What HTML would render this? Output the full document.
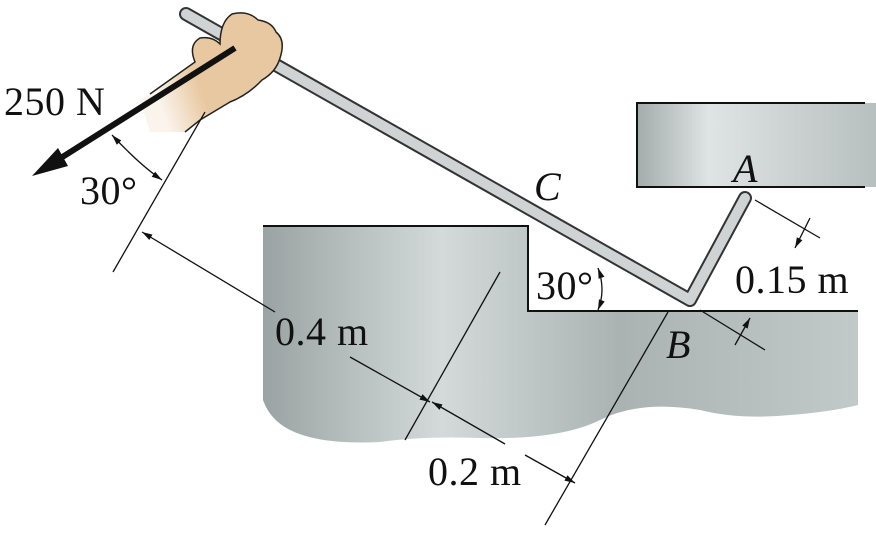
<!DOCTYPE html>
<html><head><meta charset="utf-8"><style>
html,body{margin:0;padding:0;background:#fff;width:876px;height:536px;overflow:hidden}
svg text{font-family:"Liberation Serif",serif;font-size:40px;letter-spacing:0.5px;fill:#111}
</style></head><body>
<svg width="876" height="536" viewBox="0 0 876 536">
<defs>
<linearGradient id="metal" x1="0" x2="1" y1="0" y2="0">
<stop offset="0" stop-color="#9aa3a3"/><stop offset="0.3" stop-color="#d4dada"/><stop offset="0.6" stop-color="#aab2b2"/><stop offset="1" stop-color="#c2c9c9"/></linearGradient>
<linearGradient id="metal2" x1="0" x2="1" y1="0" y2="0">
<stop offset="0" stop-color="#a3abab"/><stop offset="0.3" stop-color="#dfe4e4"/><stop offset="1" stop-color="#b8bfbf"/></linearGradient>
<linearGradient id="skin" x1="1" x2="0" y1="0" y2="0.3">
<stop offset="0.7" stop-color="#e8c8a0"/><stop offset="1" stop-color="#e8c8a0" stop-opacity="0.2"/></linearGradient>
<marker id="ah" viewBox="0 0 10 10" refX="10" refY="5" markerWidth="8" markerHeight="8" orient="auto-start-reverse"><path d="M0,2 L10,5 L0,8 z" fill="#111"/></marker>
</defs>
<g>
<rect x="637" y="103" width="239" height="84" fill="url(#metal2)"/>
<path d="M865,103 H637 V187 H865" fill="none" stroke="#111" stroke-width="2"/>
</g>
<g>
<path d="M263,226 H528 V311 H858 V405 Q830,412 790,415 Q740,420 700,410 Q640,400 600,420 Q560,440 480,438 Q420,436 380,442 Q320,445 290,430 Q270,420 263,400 Z" fill="url(#metal)"/>
<path d="M263,226 H528 V311 H858" fill="none" stroke="#111" stroke-width="2"/>
</g>
<g>
<path d="M186,14 L690,300 L745,198" fill="none" stroke="#333" stroke-width="14" stroke-linejoin="round" stroke-linecap="round"/>
<path d="M186,14 L690,300 L745,198" fill="none" stroke="#cfd3d3" stroke-width="10" stroke-linejoin="round" stroke-linecap="round"/>
</g>
<g>
<path d="M140,100 L195,62 Q188,45 200,38 Q212,36 220,44 Q220,22 232,14 Q248,10 258,20 Q272,22 276,32 Q286,40 280,58 Q276,72 262,80 Q248,95 230,102 L200,120 L185,132 L150,132 Z" fill="url(#skin)"/>
<path d="M150,94 L195,62 Q188,45 200,38 Q212,36 220,44 Q220,22 232,14 Q248,10 258,20 Q272,22 276,32 Q286,40 280,58 Q276,72 262,80 Q248,95 230,102 L200,120 L185,132" fill="none" stroke="#222" stroke-width="1.5"/>
</g>
<line x1="235" y1="48" x2="45" y2="168" stroke="#111" stroke-width="6"/>
<path d="M32,176 L58,148 L68,166 Z" fill="#111"/>
<text x="4" y="115">250 N</text>
<g stroke="#111" stroke-width="1.3" fill="none">
<line x1="113" y1="272" x2="205" y2="112"/>
<line x1="405" y1="440" x2="500" y2="272"/>
<line x1="545" y1="525" x2="668" y2="312"/>
<line x1="142" y1="232" x2="275" y2="312" marker-start="url(#ah)"/>
<line x1="350" y1="357" x2="430" y2="402" marker-end="url(#ah)"/>
<line x1="432" y1="402" x2="505" y2="444" marker-start="url(#ah)"/>
<line x1="525" y1="455" x2="575" y2="483" marker-end="url(#ah)"/>
<line x1="755" y1="200" x2="820" y2="238"/>
<line x1="700" y1="310" x2="765" y2="350"/>
<line x1="810" y1="218" x2="795" y2="248" marker-end="url(#ah)"/>
<line x1="735" y1="345" x2="750" y2="318" marker-end="url(#ah)"/>
<path d="M112,135 Q140,165 162,180" marker-start="url(#ah)" marker-end="url(#ah)"/>
<path d="M598,268 Q606,290 598,310" marker-start="url(#ah)" marker-end="url(#ah)"/>
</g>
<text x="80" y="204">30°</text>
<text x="536" y="299">30°</text>
<text x="275" y="345">0.4 m</text>
<text x="428" y="485">0.2 m</text>
<text x="735" y="293">0.15 m</text>
<text x="534" y="200" font-style="italic">C</text>
<text x="733" y="182" font-style="italic">A</text>
<text x="666" y="358" font-style="italic">B</text>
</svg>
</body></html>
